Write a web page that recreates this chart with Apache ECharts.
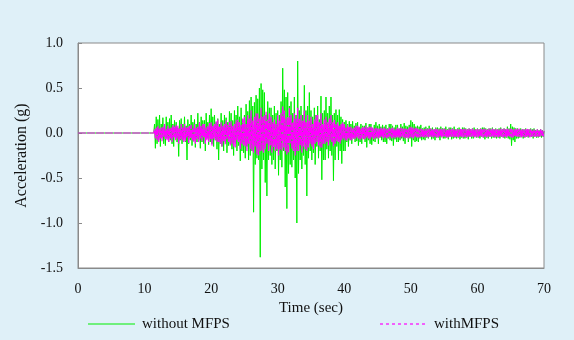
<!DOCTYPE html>
<html><head><meta charset="utf-8">
<script src="https://cdn.jsdelivr.net/npm/echarts@6/dist/echarts.min.js"></script>
<style>html,body{margin:0;padding:0;background:#dff0f8;}#c{width:574px;height:340px;}</style>
</head><body><div id="c"></div>
<script>
// Sampling of the hand-read samples: start time (s) and step (s)
const sampleStart = 11;
const sampleStep = 0.125;
const seriesNames = ['without MFPS', 'withMFPS'];
// Acceleration (g) without MFPS, 8 samples per second from 11 s (one row per second)
const withoutMFPS = [
  0,0,0,0, 0.1,-0.17,0.18,-0.12,
  0.15,-0.08,0.2,-0.15,0.1,-0.05,0.17,-0.12,
  0.08,-0.14,0.18,-0.06,0.12,-0.1,0.16,-0.08,
  0.2,-0.12,0.1,-0.15,0.14,-0.04,0.12,-0.1,
  0.06,-0.26,0.14,-0.08,0.16,-0.12,0.1,-0.06,
  0.18,-0.1,0.08,-0.3,0.15,-0.12,0.1,-0.08,
  0.2,-0.14,0.12,-0.06,0.15,-0.16,0.1,-0.1,
  0.22,-0.08,0.12,-0.17,0.18,-0.1,0.14,-0.12,
  0.14,-0.2,0.22,-0.06,0.12,-0.13,0.2,-0.1,
  0.27,-0.12,0.18,-0.15,0.2,-0.08,0.12,-0.18,
  0.16,-0.3,0.1,-0.12,0.22,-0.15,0.14,-0.2,
  0.2,-0.1,0.17,-0.22,0.12,-0.14,0.24,-0.12,
  0.22,-0.18,0.14,-0.25,0.25,-0.1,0.2,-0.2,
  0.3,-0.14,0.18,-0.31,0.28,-0.2,0.15,-0.22,
  0.2,-0.28,0.32,-0.15,0.24,-0.3,0.36,-0.25,
  0.4,-0.2,0.3,-0.88,0.34,-0.35,0.42,-0.28,
  0.38,-0.3,0.5,-1.38,0.55,-0.4,0.48,-0.3,
  0.45,-0.55,0.2,-0.7,0.35,-0.3,0.28,-0.25,
  0.28,-0.35,0.2,-0.3,0.3,-0.4,0.22,-0.2,
  0.25,-0.47,0.2,-0.3,0.35,-0.38,0.72,-0.2,
  0.48,-0.6,0.4,-0.84,0.45,-0.45,0.3,-0.35,
  0.35,-0.38,0.22,-0.3,0.4,-0.5,0.2,-1.0,
  0.8,-0.45,0.25,-0.3,0.3,-0.4,0.2,-0.25,
  0.53,-0.35,0.25,-0.7,0.3,-0.28,0.45,-0.2,
  0.25,-0.3,0.18,-0.22,0.28,-0.35,0.2,-0.15,
  0.3,-0.28,0.15,-0.2,0.41,-0.52,0.22,-0.3,
  0.25,-0.3,0.4,-0.18,0.22,-0.28,0.3,-0.2,
  0.4,-0.25,0.2,-0.53,0.22,-0.3,0.26,-0.15,
  0.2,-0.3,0.26,-0.2,0.18,-0.34,0.15,-0.2,
  0.12,-0.2,0.14,-0.1,0.1,-0.15,0.13,-0.08,
  0.1,-0.12,0.13,-0.06,0.08,-0.1,0.11,-0.09,
  0.12,-0.14,0.06,-0.1,0.1,-0.12,0.08,-0.06,
  0.08,-0.1,0.11,-0.16,0.06,-0.08,0.1,-0.12,
  0.1,-0.13,0.05,-0.09,0.09,-0.1,0.12,-0.06,
  0.08,-0.12,0.1,-0.05,0.07,-0.08,0.09,-0.1,
  0.07,-0.1,0.09,-0.12,0.05,-0.06,0.1,-0.08,
  0.1,-0.09,0.08,-0.14,0.06,-0.07,0.09,-0.1,
  0.09,-0.1,0.05,-0.08,0.1,-0.06,0.07,-0.09,
  0.11,-0.12,0.08,-0.05,0.07,-0.1,0.09,-0.06,
  0.14,-0.15,0.12,-0.08,0.1,-0.1,0.07,-0.09,
  0.08,-0.1,0.07,-0.06,0.09,-0.08,0.05,-0.07,
  0.06,-0.08,0.07,-0.05,0.05,-0.06,0.08,-0.04,
  0.05,-0.07,0.06,-0.06,0.04,-0.08,0.06,-0.05,
  0.06,-0.05,0.05,-0.08,0.07,-0.04,0.05,-0.06,
  0.05,-0.06,0.07,-0.05,0.04,-0.07,0.06,-0.04,
  0.06,-0.07,0.05,-0.06,0.07,-0.05,0.04,-0.06,
  0.05,-0.05,0.06,-0.07,0.04,-0.05,0.06,-0.06,
  0.06,-0.06,0.05,-0.05,0.04,-0.07,0.05,-0.04,
  0.04,-0.06,0.05,-0.06,0.06,-0.04,0.04,-0.05,
  0.05,-0.05,0.04,-0.06,0.05,-0.04,0.06,-0.05,
  0.06,-0.07,0.05,-0.05,0.04,-0.06,0.05,-0.04,
  0.05,-0.06,0.06,-0.05,0.04,-0.05,0.05,-0.06,
  0.04,-0.05,0.05,-0.06,0.06,-0.04,0.04,-0.05,
  0.05,-0.06,0.04,-0.05,0.07,-0.06,0.05,-0.07,
  0.1,-0.14,0.07,-0.08,0.06,-0.1,0.05,-0.06,
  0.05,-0.06,0.04,-0.05,0.05,-0.04,0.04,-0.06,
  0.04,-0.05,0.05,-0.04,0.03,-0.05,0.04,-0.04,
  0.05,-0.04,0.04,-0.06,0.05,-0.04,0.03,-0.05,
  0.04,-0.05,0.03,-0.04,0.04,-0.05,0.03,-0.04,
  0.02
];
// Acceleration (g) with MFPS, same sampling
const withMFPS = [
  0,0,0,0, 0.04,-0.06,0.06,-0.08,
  0.08,-0.1,0.05,-0.06,0.06,-0.09,0.07,-0.04,
  0.1,-0.07,0.04,-0.08,0.08,-0.1,0.05,-0.06,
  0.06,-0.1,0.09,-0.05,0.07,-0.08,0.09,-0.06,
  0.08,-0.12,0.05,-0.07,0.1,-0.08,0.06,-0.1,
  0.1,-0.09,0.06,-0.05,0.07,-0.11,0.08,-0.06,
  0.09,-0.08,0.05,-0.1,0.1,-0.12,0.06,-0.07,
  0.07,-0.1,0.12,-0.06,0.08,-0.09,0.1,-0.05,
  0.1,-0.12,0.06,-0.08,0.08,-0.1,0.11,-0.07,
  0.12,-0.14,0.08,-0.06,0.1,-0.08,0.13,-0.1,
  0.15,-0.1,0.07,-0.12,0.12,-0.15,0.08,-0.09,
  0.1,-0.13,0.14,-0.07,0.09,-0.1,0.12,-0.14,
  0.13,-0.12,0.08,-0.15,0.1,-0.16,0.14,-0.08,
  0.15,-0.1,0.12,-0.18,0.09,-0.12,0.16,-0.14,
  0.18,-0.15,0.1,-0.2,0.2,-0.12,0.16,-0.18,
  0.25,-0.2,0.14,-0.22,0.18,-0.15,0.22,-0.24,
  0.22,-0.25,0.16,-0.2,0.28,-0.2,0.18,-0.22,
  0.2,-0.18,0.24,-0.12,0.15,-0.2,0.22,-0.14,
  0.18,-0.22,0.12,-0.16,0.15,-0.2,0.1,-0.18,
  0.2,-0.25,0.14,-0.18,0.22,-0.2,0.3,-0.16,
  0.25,-0.2,0.16,-0.24,0.18,-0.22,0.28,-0.12,
  0.2,-0.18,0.12,-0.2,0.22,-0.25,0.16,-0.2,
  0.28,-0.2,0.16,-0.14,0.2,-0.22,0.14,-0.15,
  0.25,-0.18,0.12,-0.2,0.2,-0.16,0.14,-0.12,
  0.18,-0.15,0.1,-0.18,0.15,-0.12,0.2,-0.1,
  0.2,-0.14,0.12,-0.16,0.22,-0.16,0.1,-0.12,
  0.15,-0.12,0.18,-0.1,0.12,-0.14,0.16,-0.08,
  0.2,-0.1,0.12,-0.15,0.15,-0.12,0.1,-0.09,
  0.12,-0.1,0.08,-0.12,0.1,-0.08,0.12,-0.06,
  0.1,-0.08,0.06,-0.09,0.09,-0.06,0.07,-0.08,
  0.07,-0.08,0.05,-0.06,0.06,-0.07,0.08,-0.05,
  0.08,-0.06,0.07,-0.08,0.05,-0.06,0.07,-0.07,
  0.06,-0.07,0.08,-0.05,0.06,-0.06,0.07,-0.08,
  0.07,-0.05,0.06,-0.07,0.05,-0.06,0.06,-0.05,
  0.05,-0.06,0.05,-0.05,0.06,-0.04,0.05,-0.06,
  0.06,-0.05,0.05,-0.06,0.04,-0.05,0.06,-0.04,
  0.05,-0.06,0.06,-0.05,0.05,-0.06,0.04,-0.05,
  0.06,-0.05,0.05,-0.06,0.06,-0.04,0.05,-0.05,
  0.05,-0.06,0.05,-0.05,0.04,-0.06,0.06,-0.05,
  0.07,-0.05,0.06,-0.06,0.05,-0.04,0.06,-0.05,
  0.05,-0.05,0.04,-0.05,0.05,-0.04,0.04,-0.05,
  0.04,-0.05,0.05,-0.04,0.04,-0.05,0.05,-0.04,
  0.05,-0.04,0.04,-0.05,0.04,-0.04,0.05,-0.05,
  0.04,-0.05,0.04,-0.04,0.05,-0.05,0.04,-0.04,
  0.05,-0.04,0.04,-0.05,0.04,-0.05,0.05,-0.04,
  0.04,-0.04,0.05,-0.04,0.04,-0.05,0.04,-0.04,
  0.04,-0.05,0.04,-0.04,0.05,-0.04,0.04,-0.05,
  0.05,-0.04,0.04,-0.05,0.04,-0.04,0.05,-0.04,
  0.04,-0.04,0.05,-0.04,0.04,-0.05,0.04,-0.04,
  0.04,-0.05,0.04,-0.04,0.05,-0.04,0.04,-0.05,
  0.05,-0.04,0.04,-0.05,0.04,-0.04,0.05,-0.04,
  0.04,-0.04,0.05,-0.04,0.04,-0.05,0.04,-0.04,
  0.04,-0.05,0.04,-0.04,0.05,-0.04,0.04,-0.05,
  0.05,-0.04,0.04,-0.05,0.05,-0.04,0.04,-0.04,
  0.05,-0.05,0.04,-0.05,0.04,-0.04,0.05,-0.04,
  0.04,-0.04,0.05,-0.04,0.04,-0.05,0.04,-0.04,
  0.04,-0.05,0.04,-0.04,0.05,-0.04,0.04,-0.05,
  0.04,-0.04,0.03,-0.04,0.04,-0.04,0.03,-0.04,
  0.04,-0.04,0.03,-0.04,0.04,-0.03,0.03,-0.04,
  0.02
];
const xTicks = [0, 10, 20, 30, 40, 50, 60, 70];
const yTicks = [-1.5, -1.0, -0.5, 0.0, 0.5, 1.0];

function toPairs(vals) {
  const out = [[0, 0]];
  vals.forEach((v, i) => out.push([sampleStart + i * sampleStep, v]));
  return out;
}

const font = 'Liberation Serif, Times New Roman, serif';
const txt = '#111';
const greenC = '#00ee00', magC = '#ff00ff';
const chart = echarts.init(document.getElementById('c'), null, {renderer: 'canvas'});
chart.setOption({
  backgroundColor: '#dff0f8',
  animation: false,
  grid: {left: 78, right: 30, top: 43, bottom: 72, show: true, backgroundColor: '#fff', borderColor: '#8a8a8a', borderWidth: 1},
  graphic: [
    {type: 'line', shape: {x1: 88, y1: 324, x2: 135, y2: 324}, style: {stroke: greenC, lineWidth: 1.2}},
    {type: 'text', x: 142, y: 324, style: {text: seriesNames[0], font: '15px ' + font, fill: txt, textVerticalAlign: 'middle', verticalAlign: 'middle'}},
    {type: 'line', shape: {x1: 380, y1: 324, x2: 428, y2: 324}, style: {stroke: magC, lineWidth: 1.2, lineDash: [3, 3]}},
    {type: 'text', x: 434, y: 324, style: {text: seriesNames[1], font: '15px ' + font, fill: txt, textVerticalAlign: 'middle', verticalAlign: 'middle'}}
  ],
  xAxis: {
    type: 'value', min: xTicks[0], max: xTicks[xTicks.length - 1], interval: 10,
    name: 'Time (sec)', nameLocation: 'middle', nameGap: 27,
    nameTextStyle: {fontFamily: font, fontSize: 15, color: txt},
    axisLine: {onZero: false, lineStyle: {color: '#8a8a8a'}},
    axisTick: {show: false},
    splitLine: {show: false},
    axisLabel: {fontFamily: font, fontSize: 14, color: txt, margin: 14}
  },
  yAxis: {
    type: 'value', min: yTicks[0], max: yTicks[yTicks.length - 1], interval: 0.5,
    name: 'Acceleration (g)', nameLocation: 'middle', nameGap: 42,
    nameTextStyle: {fontFamily: font, fontSize: 16, color: txt},
    axisLine: {show: true, lineStyle: {color: '#8a8a8a'}},
    axisTick: {show: true, inside: true, length: 4, lineStyle: {color: '#8a8a8a'}},
    splitLine: {show: false},
    axisLabel: {fontFamily: font, fontSize: 14, color: txt, margin: 15, formatter: v => v.toFixed(1)}
  },
  series: [
    {name: seriesNames[0], type: 'line', symbol: 'none', data: toPairs(withoutMFPS),
     lineStyle: {color: greenC, width: 1}, itemStyle: {color: greenC}},
    {name: seriesNames[1], type: 'line', symbol: 'none', data: toPairs(withMFPS),
     lineStyle: {color: magC, width: 1.2, type: [8, 1]}, itemStyle: {color: magC}}
  ]
});
</script></body></html>
